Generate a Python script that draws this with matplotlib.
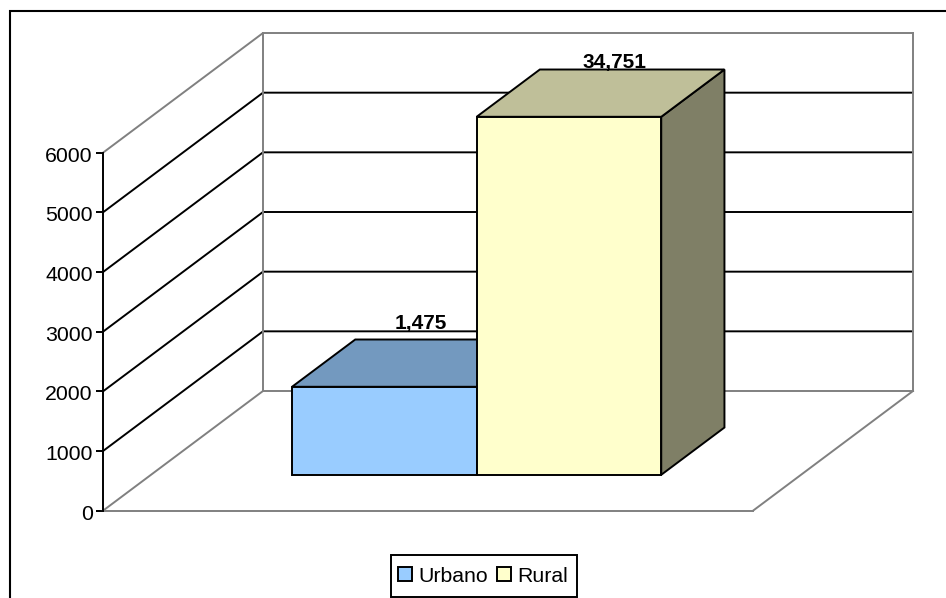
import matplotlib
matplotlib.use('Agg')
import matplotlib.pyplot as plt
from matplotlib.lines import Line2D
from matplotlib.patches import Patch, Polygon, Rectangle
from matplotlib.transforms import ScaledTranslation

categories = ['Urbano', 'Rural']
values = [1475, 34751]
value_labels = ['1,475', '34,751']
y_ticks = [0, 1000, 2000, 3000, 4000, 5000, 6000]
y_max = 6000

front_colors = ['#99CCFF', '#FFFFCC']
top_colors = ['#7399BF', '#BFBF99']
side_colors = ['#737F8C', '#7F7F66']

W, H = 946, 598
# 正面坐标轴的像素范围
AX_L, AX_R, AX_BOTTOM, AX_TOP = 103, 753, 510.7, 152.7
# 深度方向在像素上的偏移
DEPTH_DX, DEPTH_DY = 160, 119.7
BAR_W = 0.284
BAR_D0, BAR_D1 = 0.3, 0.695
BAR_SHIFT = 0.001

plt.rcParams['font.family'] = ['Liberation Sans', 'DejaVu Sans']

fig = plt.figure(figsize=(W / 100, H / 100), dpi=100)
ax = fig.add_axes([AX_L / W, 1 - AX_BOTTOM / H, (AX_R - AX_L) / W, (AX_BOTTOM - AX_TOP) / H])
ax.set_xlim(-0.5, 0.5)
ax.set_ylim(0, y_max)
ax.patch.set_visible(False)

dx_data = DEPTH_DX / (AX_R - AX_L)
dy_data = DEPTH_DY / (AX_BOTTOM - AX_TOP) * y_max


def pt(x, v, d):
    # 斜投影：把 (x, 数值, 深度) 转成坐标轴里的点
    return (x + d * dx_data, v + d * dy_data)


GREY = '#808080'
LW = 1.4

# 网格线：侧墙和后墙
for v in y_ticks:
    color = GREY if v in (0, y_max) else 'black'
    p0, p1, p2 = pt(-0.5, v, 0), pt(-0.5, v, 1), pt(0.5, v, 1)
    ax.plot([p0[0], p1[0], p2[0]], [p0[1], p1[1], p2[1]], color=color, lw=LW,
            clip_on=False, solid_joinstyle='miter', zorder=2)

# 墙角和地板
for a, b in [(pt(-0.5, 0, 1), pt(-0.5, y_max, 1)),
             (pt(0.5, 0, 1), pt(0.5, y_max, 1)),
             (pt(0.5, 0, 1), pt(0.5, 0, 0)),
             (pt(0.5, 0, 0), pt(-0.5, 0, 0))]:
    ax.plot([a[0], b[0]], [a[1], b[1]], color=GREY, lw=LW, clip_on=False, zorder=2)

# 柱子：Rural 超出坐标轴，按上限截断
lefts = [-BAR_W + BAR_SHIFT, BAR_SHIFT]
label_offsets = [(5, 40), (14, 31)]
for i in range(len(categories)):
    top = min(values[i], y_max)
    x0, x1 = lefts[i], lefts[i] + BAR_W
    side = [pt(x1, 0, BAR_D0), pt(x1, 0, BAR_D1), pt(x1, top, BAR_D1), pt(x1, top, BAR_D0)]
    roof = [pt(x0, top, BAR_D0), pt(x1, top, BAR_D0), pt(x1, top, BAR_D1), pt(x0, top, BAR_D1)]
    front = [pt(x0, 0, BAR_D0), pt(x1, 0, BAR_D0), pt(x1, top, BAR_D0), pt(x0, top, BAR_D0)]
    for poly, c in [(side, side_colors[i]), (roof, top_colors[i]), (front, front_colors[i])]:
        ax.add_patch(Polygon(poly, closed=True, facecolor=c, edgecolor='black', lw=LW,
                             clip_on=False, zorder=3 + i, joinstyle='miter'))
    lx, ly = pt(x0 + BAR_W / 2, top, (BAR_D0 + BAR_D1) / 2)
    ax.annotate(value_labels[i], (lx, ly), xytext=label_offsets[i],
                textcoords='offset pixels', ha='center', va='center', fontsize=15,
                fontweight='bold', color='black', zorder=6, annotation_clip=False)

ax.set_xticks([])
ax.set_yticks(y_ticks)
ax.tick_params(axis='y', length=5, width=1.4, labelsize=15.3, pad=2.5, color='black')
# 刻度文字略微下移
for label in ax.get_yticklabels():
    label.set_transform(label.get_transform() + ScaledTranslation(0, -1.5 / 100, fig.dpi_scale_trans))
for s in ['top', 'right', 'bottom']:
    ax.spines[s].set_visible(False)
ax.spines['left'].set_linewidth(1.4)

handles = [Patch(facecolor=c, edgecolor='black', lw=1.4) for c in front_colors]
fig.legend(handles, categories, loc='center', bbox_to_anchor=(483 / W, 1 - 576 / H),
           ncol=2, fontsize=15.3, frameon=False,
           handlelength=0.65, handleheight=0.65, handletextpad=0.27, columnspacing=0.45,
           borderpad=0, borderaxespad=0)
# 图例外框单独画，左右比默认的窄
fig.add_artist(Rectangle((390.5 / W, 1 - 597 / H), 186.5 / W, 42 / H, transform=fig.transFigure,
                         facecolor='none', edgecolor='black', lw=1.4))

# 外框只有左边和上边，另外两边被图片裁掉
fig.add_artist(Line2D([9.5 / W, 9.5 / W, 1.0], [0, 1 - 11 / H, 1 - 11 / H],
                      transform=fig.transFigure, color='black', lw=1.5,
                      solid_joinstyle='miter'))

fig.savefig('out.png', dpi=100)
